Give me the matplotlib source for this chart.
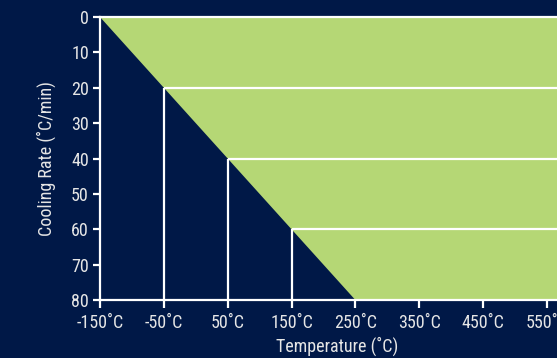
import matplotlib
matplotlib.use("Agg")
import matplotlib.pyplot as plt

# Data
boundary_temp = [-150, -50, 50, 150, 250]      # °C, points on the diagonal boundary
boundary_rate = [0, 20, 40, 60, 80]            # °C/min
step_temp = [-50, 50, 150]
step_rate = [20, 40, 60]
x_ticks = [-150, -50, 50, 150, 250, 350, 450, 550]
x_labels = ["-150˚C", "-50˚C", "50˚C", "150˚C", "250˚C", "350˚C", "450˚C", "550˚C"]
y_ticks = [0, 10, 20, 30, 40, 50, 60, 70, 80]

BG = "#001847"
GREEN = "#b5d775"
FG = "#e6e6e6"

plt.rcParams["font.family"] = ["Roboto Condensed", "DejaVu Sans"]
FS = 13

fig = plt.figure(figsize=(5.57, 3.58), dpi=100, facecolor=BG)
# axes extends a little past the right edge of the figure, as in the reference
ax = fig.add_axes([0.1795, 0.162, 0.8528, 0.7905])
ax.set_facecolor(BG)

xmin, xmax = -150, 594
ymin, ymax = 0, 80

# Green region: right of the diagonal
poly_x = [boundary_temp[0], boundary_temp[-1], xmax + 50, xmax + 50]
poly_y = [boundary_rate[0], boundary_rate[-1], ymax, ymin]
ax.fill(poly_x, poly_y, color=GREEN, lw=0, zorder=1)

# White step lines
for t, r in zip(step_temp, step_rate):
    ax.plot([t, xmax + 50], [r, r], color="white", lw=1.6, zorder=2, solid_capstyle="butt")
    ax.plot([t, t], [r, ymax], color="white", lw=1.6, zorder=2, solid_capstyle="butt")
ax.plot([xmin, xmax + 50], [0, 0], color="white", lw=1.6, zorder=2, clip_on=False)

ax.set_xlim(xmin, xmax)
ax.set_ylim(ymax, ymin)

for s in ["top", "right"]:
    ax.spines[s].set_visible(False)
for s in ["left", "bottom"]:
    ax.spines[s].set_color("white")
    ax.spines[s].set_linewidth(1.6)
    ax.spines[s].set_zorder(3)

ax.set_xticks(x_ticks)
ax.set_xticklabels(x_labels)
ax.set_yticks(y_ticks)
ax.tick_params(colors="white", labelcolor=FG, labelsize=FS, width=1.6, direction="out")
ax.tick_params(axis="x", length=6, pad=4)
ax.tick_params(axis="y", length=5, pad=3)

ax.set_xlabel("Temperature (˚C)", color=FG, fontsize=FS, labelpad=3.5)
ax.set_ylabel("Cooling Rate (˚C/min)", color=FG, fontsize=FS, labelpad=11)

fig.savefig("out.png", dpi=100, facecolor=BG)
